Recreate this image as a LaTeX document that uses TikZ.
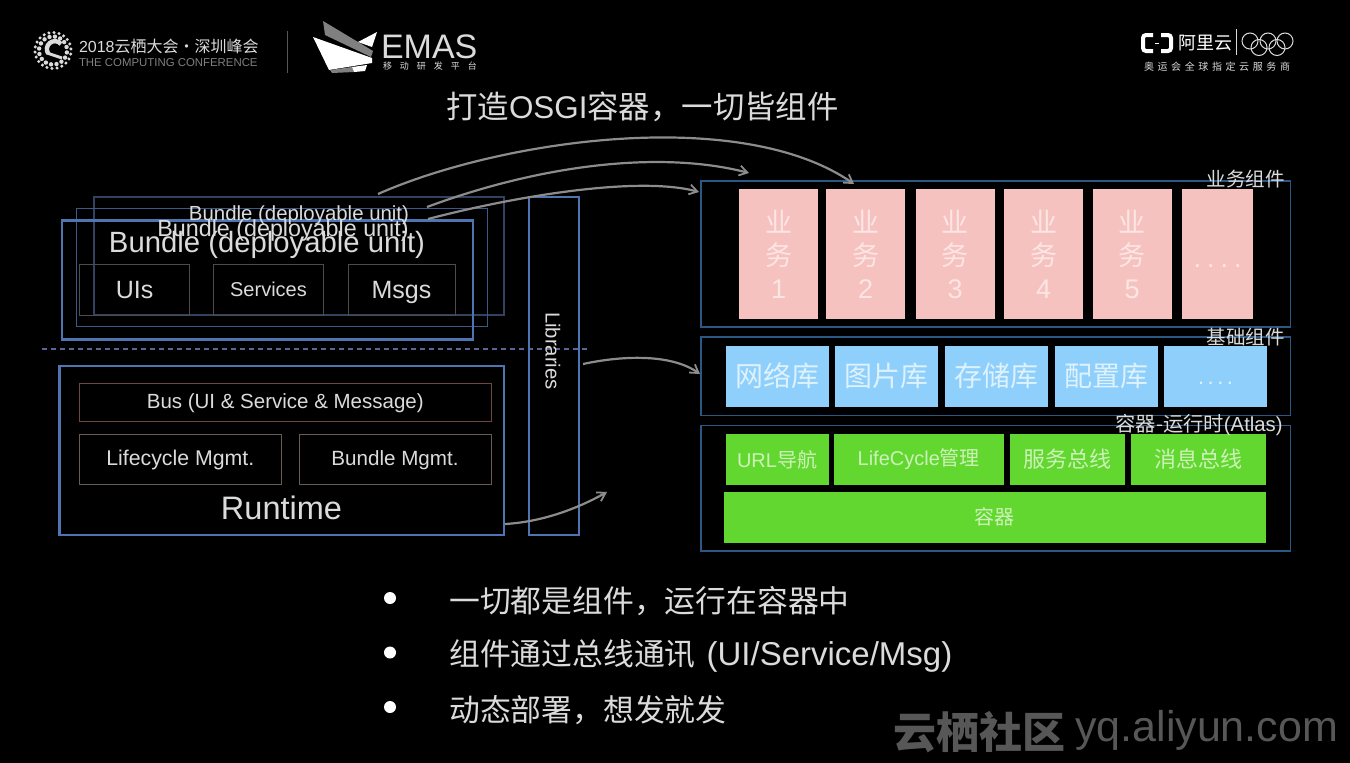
\documentclass[tikz,border=0pt]{standalone}
\usepackage{fontspec}
\setmainfont{Liberation Sans}
\newfontfamily\cjkfont{Noto Sans CJK SC}
\usetikzlibrary{positioning}
\usetikzlibrary{calc}
\usetikzlibrary{arrows.meta}
\definecolor{lighttext}{gray}{.86}
\definecolor{framefront}{RGB}{78,116,178}
\definecolor{framemid}{RGB}{60,90,136}
\definecolor{frameback}{RGB}{50,66,96}
\definecolor{framelayer}{RGB}{42,88,132}
\definecolor{innerline}{gray}{.30}
\definecolor{busline}{RGB}{110,72,60}
\definecolor{mgmtline}{RGB}{104,92,78}
\definecolor{dashline}{RGB}{90,100,150}
\definecolor{mypink}{RGB}{245,194,192}
\definecolor{mypinktext}{RGB}{252,230,228}
\definecolor{myblue}{RGB}{142,207,252}
\definecolor{mybluetext}{RGB}{222,242,252}
\definecolor{mygreen}{RGB}{98,215,48}
\definecolor{mygreentext}{RGB}{205,242,185}
\definecolor{arrowgray}{gray}{.55}
\definecolor{markgray}{gray}{.34}
\newcommand{\zh}[1]{{\cjkfont #1}}
\newcommand{\fs}[1]{\fontsize{#1}{#1}\selectfont}
\newcommand{\widthpink}{79pt}
\newcommand{\widthblue}{103pt}
\tikzset{
    common/.style={anchor=west, inner sep=0pt, outer sep=0pt, align=center},
    frame/.style={common, draw, line width=#1, minimum height=20pt},
    frame/.default=1.5pt,
    txt/.style={inner sep=0pt, outer sep=0pt, text=lighttext, align=center},
    capline/.style={text height=#1, text depth=0pt},
    bundlebox/.style={common, draw=innerline, line width=.8pt, text=lighttext, minimum height=51pt, minimum width=109pt},
    mgmtbox/.style={common, draw=mgmtline, line width=.8pt, text=lighttext, minimum height=50pt, capline=13pt},
    pinkbox/.style={common, fill=mypink, text=mypinktext, minimum width=\widthpink, minimum height=130pt, font=\fontsize{27}{33}\selectfont},
    bluebox/.style={common, fill=myblue, text=mybluetext, minimum width=\widthblue, minimum height=61pt, font=\fs{28}},
    greenbox/.style={common, fill=mygreen, text=mygreentext, minimum height=51pt},
    curve/.style={draw=arrowgray, line width=2.2pt, -{Straight Barb[length=8pt,width=10pt,line width=1.8pt]}},
    bullet/.style={circle, fill=white, inner sep=0pt, minimum size=12pt},
    bullettext/.style={anchor=west, inner sep=0pt, text=lighttext, font=\fs{30.8}},
    dot/.style={circle, fill=lighttext, inner sep=0pt, minimum size=#1},
    ring/.style={circle, draw=lighttext, line width=1pt, inner sep=0pt, minimum size=16pt},
}
\begin{document}
\begin{tikzpicture}[x=1pt,y=-1pt]
\useasboundingbox[fill=black] (0,0) rectangle (1350,763);

% header, left side
\foreach \r/\n/\s in {18/22/3.4pt, 14/16/4.4pt}{
    \foreach \i in {1,...,\n}{
        \node[dot=\s] at ($(53,50.5)+({360*\i/\n+7*\r}:\r)$) {};
    }
}
\draw[lighttext, line width=4.4pt] (61,44) arc[start angle=-40, end angle=-215, radius=8];
\draw[lighttext, line width=3pt] (47,53) -- (62,58);
\node[txt, anchor=west, font=\fs{16}] (Conf) at (79,46) {2018\zh{云栖大会·深圳峰会}};
\node[txt, anchor=west, font=\fs{11.4}, text=gray] (ConfEn) at (79,63) {THE COMPUTING CONFERENCE};
\coordinate (SepTop) at (287,31);
\coordinate (SepBot) at (287,73);
\draw[markgray, line width=1pt] (SepTop) -- (SepBot);

% wings
\fill[gray] (323,21) -- (373,51) -- (371,57) -- (325,35) -- cycle;
\fill[white] (313,37) -- (372,58) -- (372,63) -- (329,70) -- cycle;
\fill[white] (377,32) -- (372,47) -- (358,42) -- cycle;
\fill[gray] (330,70) -- (352,67) -- (354,72) -- (332,73) -- cycle;
\fill[white] (352,67) -- (367,65) -- (365,71) -- (354,72) -- cycle;
\node[txt, anchor=west, font=\fs{34}, capline=24pt] (Emas) at (381,46.5) {EMAS};
\node[txt, anchor=west, font=\fs{9}] (EmasSub) at (383,66) {\zh{移\hspace{8pt}动\hspace{8pt}研\hspace{8pt}发\hspace{8pt}平\hspace{8pt}台}};

% header, right side
\draw[white, line width=4pt, rounded corners=3pt] (1153,35) -- (1143,35) -- (1143,51) -- (1153,51);
\draw[white, line width=4pt, rounded corners=3pt] (1161,35) -- (1171,35) -- (1171,51) -- (1161,51);
\draw[white, line width=1pt] (1155,43) -- (1159,43);
\node[txt, anchor=west, text=white, font=\fs{18}] (Cloud) at (1178,43) {\zh{阿里云}};
\coordinate (RuleTop) at (1236,29);
\coordinate (RuleBot) at (1236,55);
\draw[lighttext, line width=.7pt] (RuleTop) -- (RuleBot);
\foreach \cx/\cy in {1250/41, 1268/41, 1285/41, 1259/47.5, 1277/47.5}{
    \node[ring] at (\cx,\cy) {};
}
\node[txt, anchor=west, font=\fs{10}] (Sponsor) at (1144,67) {\zh{奥\hspace{3.6pt}运\hspace{3.6pt}会\hspace{3.6pt}全\hspace{3.6pt}球\hspace{3.6pt}指\hspace{3.6pt}定\hspace{3.6pt}云\hspace{3.6pt}服\hspace{3.6pt}务\hspace{3.6pt}商}};

% title
\node[txt, font=\fs{31.4}] (Title) at (642.5,107) {\zh{打造}OSGI\zh{容器，一切皆组件}};

% bundles
\node[frame, draw=frameback, minimum width=410pt, minimum height=118pt] (BundleC) at (94,256) {};
\node[frame=1.8pt, draw=framemid, minimum width=411pt, minimum height=118pt] (BundleB) at (76.5,267.5) {};
\node[frame=2.2pt, draw=framefront, minimum width=411pt, minimum height=119pt] (BundleA) at (62,280) {};
\node[txt, font=\fs{20.4}, capline=15pt] (BundleTextC) at (299,213) {Bundle (deployable unit)};
\node[txt, font=\fs{23.3}, capline=17pt] (BundleTextB) at (283,227.5) {Bundle (deployable unit)};
\node[txt, font=\fs{29.3}, capline=21pt] (BundleTextA) at (267,242) {Bundle (deployable unit)};
\path (79.5,289.5) node[bundlebox, minimum width=110pt, font=\fs{25}, capline=18pt] (UIs) {UIs}
    to ++(134,0) node[bundlebox, minimum width=110pt, font=\fs{20}, capline=14pt] (Services) {Services}
    to ++(134.5,0) node[bundlebox, minimum width=107pt, font=\fs{25}, capline=18pt] (Msgs) {Msgs};

% dashed separator
\coordinate (DashL) at (42,348.5);
\coordinate (DashR) at (589,348.5);
\draw[dashline, line width=2pt, dash pattern=on 5pt off 4pt] (DashL) -- (DashR);

% runtime
\node[frame=2.2pt, draw=framefront, minimum width=444.5pt, minimum height=169pt] (Runtime) at (59.5,450.5) {};
\node[common, draw=busline, line width=.8pt, text=lighttext, minimum width=411.5pt, minimum height=38pt, font=\fs{20.5}, capline=13pt] (Bus) at (79.5,402) {Bus (UI \& Service \& Message)};
\path (79.5,459) node[mgmtbox, minimum width=201.5pt, font=\fs{21.3}] (Lifecycle) {Lifecycle Mgmt.}
    to ++(219.5,0) node[mgmtbox, minimum width=192pt, font=\fs{20.6}] (BundleMgmt) {Bundle Mgmt.};
\node[txt, font=\fs{32.5}, capline=23pt] (RuntimeText) at (281.5,508) {Runtime};

% libraries
\node[frame=2.2pt, draw=framefront, minimum width=50pt, minimum height=338pt] (Libraries) at (529,366) {};
\node[txt, rotate=-90, font=\fs{20.3}] (LibrariesText) at (553,351) {Libraries};

% layer frames
\node[frame, draw=framelayer, minimum width=589.5pt, minimum height=146pt] (Biz) at (701,254) {};
\node[frame, draw=framelayer, minimum width=589.5pt, minimum height=78.5pt] (Base) at (701,376) {};
\node[frame, draw=framelayer, minimum width=589.5pt, minimum height=125.5pt] (Core) at (701,488) {};

% business row
\path (739,254) node[pinkbox] (Biz1) {\zh{业}\\\zh{务}\\1}
    to ++(87,0) node[pinkbox] (Biz2) {\zh{业}\\\zh{务}\\2}
    to ++(89.5,0) node[pinkbox] (Biz3) {\zh{业}\\\zh{务}\\3}
    to ++(88.5,0) node[pinkbox] (Biz4) {\zh{业}\\\zh{务}\\4}
    to ++(88.5,0) node[pinkbox] (Biz5) {\zh{业}\\\zh{务}\\5}
    to ++(89.5,0) node[pinkbox, minimum width=71pt, capline=26pt] (BizMore) {.\hspace{6pt}.\hspace{6pt}.\hspace{6pt}.};
\node[txt, font=\fs{19.5}] (BizText) at (1245.5,179) {\zh{业务组件}};

% base row
\path (725.5,376) node[bluebox] (Net) {\zh{网络库}}
    to ++(109.5,0) node[bluebox] (Pic) {\zh{图片库}}
    to ++(109.5,0) node[bluebox] (Store) {\zh{存储库}}
    to ++(110,0) node[bluebox] (Conf2) {\zh{配置库}}
    to ++(109.5,0) node[bluebox, font=\fs{22}, capline=16pt] (BaseMore) {.\hspace{3.5pt}.\hspace{3.5pt}.\hspace{3.5pt}.};
\node[txt, font=\fs{19.5}] (BaseText) at (1245.5,337) {\zh{基础组件}};

% container rows
\path (725.5,459.5) node[greenbox, minimum width=103pt, font=\fs{20}] (Url) {URL\zh{导航}}
    to ++(108.5,0) node[greenbox, minimum width=169.5pt, font=\fs{20}] (Life) {LifeCycle\zh{管理}}
    to ++(175.5,0) node[greenbox, minimum width=115.5pt, font=\fs{22}] (SvcBus) {\zh{服务总线}}
    to ++(121.5,0) node[greenbox, minimum width=134.5pt, font=\fs{22}] (MsgBus) {\zh{消息总线}};
\node[greenbox, minimum width=541.5pt, font=\fs{20}] (Box) at (724,517) {\zh{容器}};
\node[txt, font=\fs{20.3}] (CoreText) at (1199,425) {\zh{容器-运行时}(Atlas)};

% arrows
\coordinate (A1s) at (378,194);
\coordinate (A1e) at (854,184);
\coordinate (A2s) at (427,207);
\coordinate (A2e) at (749,173);
\coordinate (A3s) at (428,219);
\coordinate (A3e) at (699,192);
\coordinate (A4s) at (583,364);
\coordinate (A4e) at (700,374);
\coordinate (A5s) at (505,524);
\coordinate (A5e) at (607,492);
\draw[curve] (A1s) .. controls (500,140) and (740,105) .. (A1e);
\draw[curve] (A2s) .. controls (540,165) and (660,150) .. (A2e);
\draw[curve] (A3s) .. controls (520,195) and (640,176) .. (A3e);
\draw[curve] (A4s) .. controls (620,356) and (670,353) .. (A4e);
\draw[curve] (A5s) .. controls (540,522) and (575,510) .. (A5e);

% bullet list
\path (390,598) node[bullet] (B1) {}
    to ++(0,54.5) node[bullet] (B2) {}
    to ++(0,54.5) node[bullet] (B3) {};
\node[bullettext] (T1) at (449,601) {\zh{一切都是组件，运行在容器中}};
\node[bullettext] (T2) at (449,656) {\zh{组件通过总线通讯}\hspace{11pt}{\fs{33}(UI/Service/Msg)}};
\node[bullettext] (T3) at (449,710) {\zh{动态部署，想发就发}};

% watermark
\node[anchor=west, inner sep=0pt, text=markgray, font=\fs{43}\bfseries] (Mark) at (893,732) {\zh{云栖社区}};
\node[anchor=west, inner sep=0pt, text=markgray, font=\fs{43}] (MarkUrl) at (1075,730) {yq.aliyun.com};
\end{tikzpicture}
\end{document}
